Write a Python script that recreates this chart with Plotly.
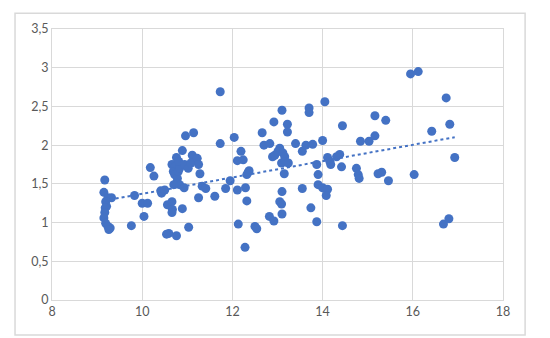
import numpy as np
import plotly.graph_objects as go

x_vals = [
    9.17, 9.15, 9.24, 9.32, 9.19, 9.21, 9.18, 9.17, 9.15, 9.19, 9.24, 9.29, 9.26,
    9.83, 9.76, 10.0, 10.12, 10.04, 10.18, 10.26, 10.43, 10.41, 10.5,
    10.56, 10.59, 10.54, 10.66, 10.67, 10.66, 10.76,
    10.76, 10.66, 10.72, 10.69, 10.72, 10.78, 10.8, 10.83, 10.81, 10.76, 10.83, 10.7,
    10.89, 10.94, 11.02, 10.93, 10.89, 11.03, 10.96, 11.14,
    11.11, 11.08, 11.22, 11.25, 11.28, 11.25, 11.33, 11.41,
    11.61, 11.73, 11.73, 11.85, 11.95,
    12.04, 12.11, 12.19, 12.11, 12.24, 12.13,
    12.29, 12.32, 12.35, 12.37, 12.32, 12.28, 12.5, 12.54,
    12.66, 12.7, 12.83, 12.92, 12.89, 12.94, 12.82, 12.92,
    13.05, 13.1, 13.01, 13.12, 13.16, 13.09, 13.16, 13.24, 13.15, 13.22, 13.22, 13.1, 13.05, 13.09, 13.1,
    13.4, 13.55, 13.55, 13.63, 13.7, 13.7, 13.78, 13.74, 13.87, 13.9, 13.9, 13.87,
    14.0, 14.05, 14.0, 14.11, 14.08, 14.11, 14.16, 14.18, 14.31, 14.38, 14.42, 14.44, 14.44,
    14.75, 14.79, 14.81, 14.84, 15.03, 15.16, 15.16, 15.23, 15.31, 15.4, 15.46,
    15.95, 16.12, 16.03, 16.42, 16.74, 16.82, 16.93, 16.68, 16.8,
]
y_vals = [
    1.55, 1.39, 1.32, 1.32, 1.27, 1.21, 1.19, 1.13, 1.06, 0.99, 0.95, 0.93, 0.91,
    1.35, 0.96, 1.25, 1.25, 1.08, 1.71, 1.60, 1.38, 1.41, 1.42,
    1.23, 0.86, 0.85, 1.27, 1.17, 1.13, 0.83,
    1.84, 1.75, 1.72, 1.66, 1.62, 1.57, 1.66, 1.70, 1.79, 1.51, 1.49, 1.49,
    1.93, 1.75, 1.70, 1.45, 1.18, 0.94, 2.12, 2.16,
    1.87, 1.77, 1.83, 1.75, 1.63, 1.32, 1.47, 1.44,
    1.34, 2.02, 2.69, 1.44, 1.54,
    2.10, 1.42, 1.92, 1.80, 1.81, 0.98,
    1.45, 1.62, 1.65, 1.67, 1.28, 0.68, 0.95, 0.92,
    2.16, 2.00, 2.02, 2.30, 1.85, 1.87, 1.08, 1.02,
    1.96, 2.45, 1.92, 1.90, 1.85, 1.77, 1.79, 1.77, 1.63, 2.27, 2.17, 1.40, 1.27, 1.24, 1.11,
    2.02, 1.92, 1.44, 2.00, 2.48, 2.42, 2.01, 1.19, 1.75, 1.62, 1.49, 1.01,
    2.06, 2.56, 1.45, 1.43, 1.35, 1.84, 1.79, 1.75, 1.85, 1.88, 1.72, 2.25, 0.96,
    1.70, 1.62, 1.57, 2.05, 2.05, 2.12, 2.38, 1.63, 1.65, 2.32, 1.54,
    2.92, 2.95, 1.62, 2.18, 2.61, 2.27, 1.84, 0.98, 1.05,
]

x_ticks = [8, 10, 12, 14, 16, 18]
y_ticks = [0, 0.5, 1, 1.5, 2, 2.5, 3, 3.5]

xa = np.array(x_vals)
ya = np.array(y_vals)
slope, intercept = np.polyfit(xa, ya, 1)
tx = np.array([xa.min(), xa.max()])
ty = slope * tx + intercept

fig = go.Figure()
fig.add_trace(go.Scatter(
    x=x_vals, y=y_vals, mode="markers",
    marker=dict(color="#4472C4", size=9, line=dict(width=0)),
    showlegend=False, hoverinfo="skip",
))
fig.add_trace(go.Scatter(
    x=tx, y=ty, mode="lines",
    line=dict(color="#4472C4", width=2, dash="dot"),
    showlegend=False, hoverinfo="skip",
))

grid = "#d9d9d9"
fig.update_layout(
    width=550, height=338,
    margin=dict(l=44, r=55, t=21, b=46),
    paper_bgcolor="white", plot_bgcolor="white",
    separators=", ",
    font=dict(family="Lato, Open Sans, sans-serif", size=12.5, color="#595959"),
    xaxis=dict(range=[8, 18], tickvals=x_ticks, showgrid=True, gridcolor=grid,
               gridwidth=1, zeroline=False, showline=True, linecolor=grid,
               mirror=True, ticks="", fixedrange=True),
    yaxis=dict(range=[0, 3.5], tickvals=y_ticks, showgrid=True, gridcolor=grid,
               gridwidth=1, zeroline=False, showline=True, linecolor=grid,
               mirror=True, ticks="", fixedrange=True),
    shapes=[dict(type="rect", xref="paper", yref="paper",
                 x0=-0.082, x1=1.049, y0=-0.129, y1=1.058,
                 line=dict(color="#d9d9d9", width=1.5), layer="below")],
)

fig.write_html("out.html")
